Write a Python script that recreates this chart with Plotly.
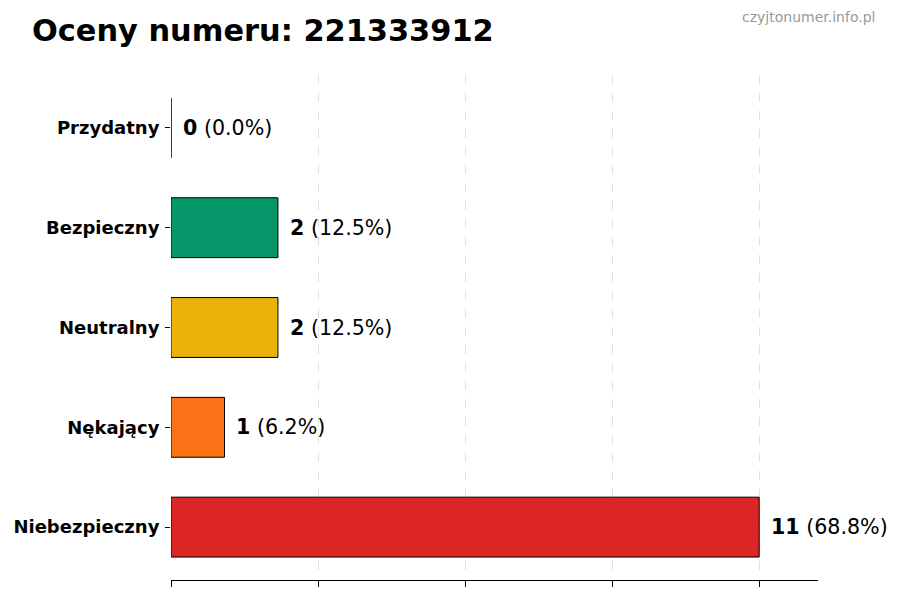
import plotly.graph_objects as go

categories = ['Niebezpieczny', 'Nękający', 'Neutralny', 'Bezpieczny', 'Przydatny']
counts = [11, 1, 2, 2, 0]
percents = [68.8, 6.2, 12.5, 12.5, 0.0]
colors = ['#DC2626', '#F97316', '#EAB308', '#059669', '#16A34A']

fig = go.Figure(go.Bar(
    x=counts, y=categories, orientation='h', width=0.6,
    marker=dict(color=colors, line=dict(color='black', width=1)),
    hoverinfo='skip'
))

for c, n, p in zip(categories, counts, percents):
    fig.add_annotation(x=n, y=c, xref='x', yref='y', text=f'<b>{n}</b> ({p:.1f}%)',
                       showarrow=False, xanchor='left', xshift=10,
                       font=dict(size=20.6, color='black', family='DejaVu Sans'))

# page body adds an 8px offset, margins below compensate for it
fig.add_annotation(x=1, y=1, xref='paper', yref='paper', text='czyjtonumer.info.pl',
                   showarrow=False, xanchor='right', yanchor='bottom', xshift=59, yshift=48,
                   font=dict(size=14, color='#999999', family='DejaVu Sans'))

fig.update_layout(
    width=900, height=600,
    paper_bgcolor='white', plot_bgcolor='white',
    margin=dict(l=163, r=90, t=67, b=28, autoexpand=False),
    showlegend=False,
    title=dict(text='<b>Oceny numeru: 221333912</b>', x=24/900, xanchor='left', y=0.98, yanchor='top',
               font=dict(size=30.4, color='black', family='DejaVu Sans')),
    font=dict(family='DejaVu Sans'),
)
fig.update_xaxes(range=[0, 12.1], tickvals=[0, 2.75, 5.5, 8.25, 11], showticklabels=False,
                 ticks='outside', ticklen=6, tickcolor='black',
                 showline=True, linecolor='black', linewidth=1,
                 showgrid=True, gridcolor='#e0e0e0', griddash='dash', gridwidth=1, zeroline=False)
fig.update_yaxes(range=[-0.53, 4.53], ticks='outside', ticklen=5, tickcolor='black',
                 showline=False, showgrid=False, zeroline=False, ticklabelstandoff=2, automargin=False,
                 tickfont=dict(size=18, color='black', family='DejaVu Sans'),
                 ticktext=[f'<b>{c}</b>' for c in categories], tickvals=categories)

fig.write_html("out.html")
